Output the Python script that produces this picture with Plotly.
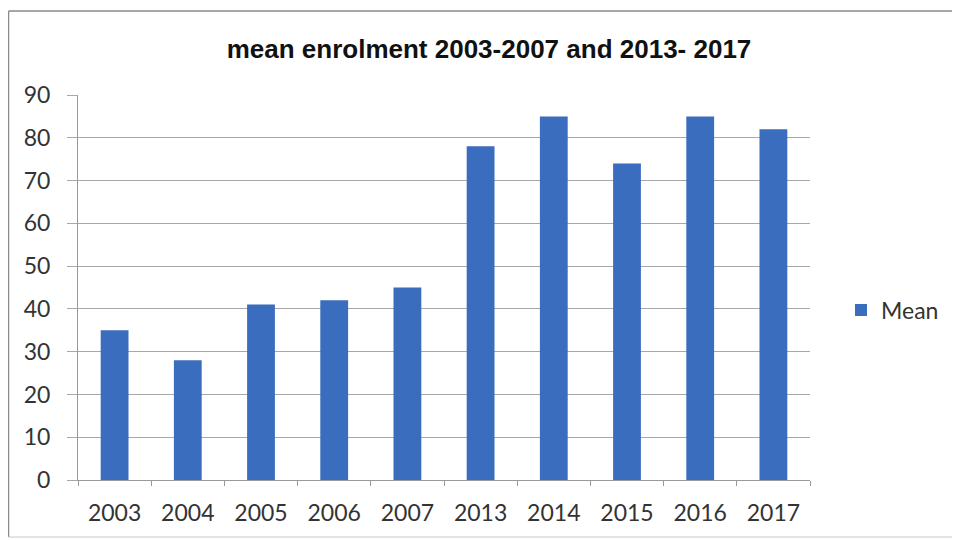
import plotly.graph_objects as go

years = ["2003", "2004", "2005", "2006", "2007", "2013", "2014", "2015", "2016", "2017"]
mean_values = [35, 28, 41, 42, 45, 78, 85, 74, 85, 82]
y_ticks = [0, 10, 20, 30, 40, 50, 60, 70, 80, 90]

# figure is placed at page offset (8, 8)
OFF = 8
W, H = 952, 532
L, T = 78 - OFF, 95 - OFF
R = W - (810 - OFF)
B = H - (480 - OFF)
pw, ph = W - L - R, H - T - B

def px(x):
    return (x - OFF - L) / pw

def py(y):
    return (H - B - (y - OFF)) / ph

fig = go.Figure()
fig.add_trace(go.Bar(
    x=years, y=mean_values, name="Mean",
    marker=dict(color="#3b6dbe", line=dict(width=0)),
    showlegend=True,
))

tick_font = dict(family="Lato, Open Sans, sans-serif", size=23, color="#333333")

fig.update_layout(
    width=W, height=H,
    margin=dict(l=L, r=R, t=T, b=B),
    paper_bgcolor="white", plot_bgcolor="white",
    bargap=0.62,
    title=dict(text="<b>mean enrolment 2003-2007 and 2013- 2017</b>",
               x=(489 - OFF) / W, xanchor="center", y=1 - (49 - OFF) / H, yanchor="middle",
               font=dict(family="Liberation Sans Narrow, Liberation Sans, Arial", size=26, color="#111111")),
    xaxis=dict(
        type="category", showgrid=False,
        showline=True, linecolor="#9a9a9a", linewidth=1,
        ticks="outside", tickson="boundaries", ticklen=5, tickcolor="#9a9a9a",
        ticklabelstandoff=12,
        tickfont=tick_font,
    ),
    yaxis=dict(
        range=[0, 90], tickvals=y_ticks,
        showgrid=True, gridcolor="#a8a8a8", gridwidth=1,
        showline=True, linecolor="#9a9a9a", linewidth=1,
        ticks="outside", ticklen=10, tickcolor="#a8a8a8",
        ticklabelstandoff=12,
        zeroline=False,
        tickfont=tick_font,
    ),
    legend=dict(
        x=px(841), y=py(310), xanchor="left", yanchor="middle",
        font=dict(family="Lato, Open Sans, sans-serif", size=23, color="#333333"),
        bgcolor="rgba(0,0,0,0)", itemwidth=30,
    ),
    shapes=[
        dict(type="line", xref="paper", yref="paper",
             x0=px(8.5), x1=px(960), y0=py(11), y1=py(11),
             line=dict(color="#8a8a8a", width=1.5)),
        dict(type="line", xref="paper", yref="paper",
             x0=px(8.5), x1=px(8.5), y0=py(11), y1=py(537),
             line=dict(color="#8a8a8a", width=1.5)),
        dict(type="line", xref="paper", yref="paper",
             x0=px(8.5), x1=px(960), y0=py(537), y1=py(537),
             line=dict(color="#c8c8c8", width=1)),
    ],
)

fig.write_html("out.html")
